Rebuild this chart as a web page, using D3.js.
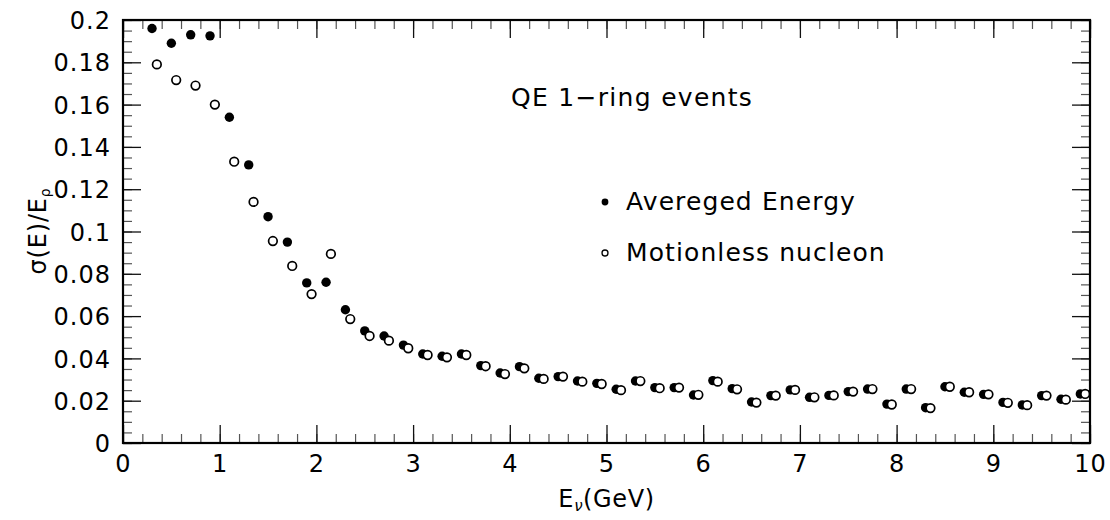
<!DOCTYPE html>
<html>
<head>
<meta charset="utf-8">
<script src="https://cdn.jsdelivr.net/npm/d3@7"></script>
<style>
  body { margin: 0; background: #fff; }
  svg text { font-family: "DejaVu Sans", sans-serif; fill: #000; }
</style>
</head>
<body>
<div id="chart"></div>
<script>
// ==========================
// Data
// ==========================

const xTicks = [0, 1, 2, 3, 4, 5, 6, 7, 8, 9, 10];
const yTicks = [0, 0.02, 0.04, 0.06, 0.08, 0.1, 0.12, 0.14, 0.16, 0.18, 0.2];

const avgEnergyX = [0.3, 0.5, 0.7, 0.9, 1.1, 1.3, 1.5, 1.7, 1.9, 2.1, 2.3, 2.5, 2.7, 2.9,
    3.1, 3.3, 3.5, 3.7, 3.9, 4.1, 4.3, 4.5, 4.7, 4.9, 5.1, 5.3, 5.5, 5.7, 5.9,
    6.1, 6.3, 6.5, 6.7, 6.9, 7.1, 7.3, 7.5, 7.7, 7.9, 8.1, 8.3, 8.5, 8.7, 8.9,
    9.1, 9.3, 9.5, 9.7, 9.9];
const avgEnergyY = [0.196, 0.189, 0.193, 0.1925, 0.154, 0.1315, 0.107, 0.095, 0.0757, 0.076,
    0.063, 0.053, 0.0506, 0.0463, 0.0421, 0.041, 0.0421, 0.0366, 0.0331, 0.0361,
    0.0306, 0.0314, 0.0293, 0.0282, 0.0254, 0.0293, 0.0262, 0.0262, 0.0227, 0.0295,
    0.0257, 0.0194, 0.0224, 0.0251, 0.0216, 0.0225, 0.0243, 0.0255, 0.0184, 0.0255,
    0.0167, 0.0266, 0.024, 0.023, 0.0192, 0.018, 0.0224, 0.0207, 0.0232];

const motionlessX = [0.35, 0.55, 0.75, 0.95, 1.15, 1.35, 1.55, 1.75, 1.95, 2.15, 2.35, 2.55, 2.75, 2.95,
    3.15, 3.35, 3.55, 3.75, 3.95, 4.15, 4.35, 4.55, 4.75, 4.95, 5.15, 5.35, 5.55, 5.75, 5.95,
    6.15, 6.35, 6.55, 6.75, 6.95, 7.15, 7.35, 7.55, 7.75, 7.95, 8.15, 8.35, 8.55, 8.75, 8.95,
    9.15, 9.35, 9.55, 9.75, 9.95];
const motionlessY = [0.179, 0.1716, 0.169, 0.16, 0.133, 0.114, 0.0955, 0.0837, 0.0704, 0.0894,
    0.0586, 0.0506, 0.0484, 0.0448, 0.0416, 0.0405, 0.0416, 0.0363, 0.0326, 0.0353,
    0.0303, 0.0314, 0.029, 0.0279, 0.025, 0.0293, 0.0259, 0.0262, 0.0228, 0.029,
    0.0254, 0.0191, 0.0224, 0.0251, 0.0216, 0.0225, 0.0243, 0.0255, 0.0182, 0.0255,
    0.0165, 0.0266, 0.024, 0.023, 0.019, 0.0179, 0.0224, 0.0205, 0.0232];

const avgEnergy = avgEnergyX.map((x, i) => ({ x, y: avgEnergyY[i] }));
const motionless = motionlessX.map((x, i) => ({ x, y: motionlessY[i] }));

// ==========================
// SVG Setup
// ==========================

const width = 1110;
const height = 520;
const margin = { top: 20, right: 20, bottom: 77, left: 123 };
const innerWidth = width - margin.left - margin.right;
const innerHeight = height - margin.top - margin.bottom;

const svg = d3.select("#chart").append("svg")
    .attr("width", width)
    .attr("height", height);

const chart = svg.append("g")
    .attr("transform", `translate(${margin.left},${margin.top})`);

// ==========================
// Scales
// ==========================

const xScale = d3.scaleLinear().domain([0, 10]).range([0, innerWidth]);
const yScale = d3.scaleLinear().domain([0, 0.2]).range([innerHeight, 0]);

const xMinor = d3.range(0, 10.001, 0.2).map(v => +v.toFixed(1));
const yMinor = d3.range(0, 0.2001, 0.005).map(v => +v.toFixed(3));

// ==========================
// Axes (ticks point inward)
// ==========================

function styleAxis(g, color, width, keepText) {
    g.select(".domain").remove();
    g.selectAll(".tick line").attr("stroke", color).attr("stroke-width", width);
    if (!keepText) g.selectAll(".tick text").remove();
}

// minor ticks
chart.append("g").attr("transform", `translate(0,${innerHeight})`)
    .call(d3.axisBottom(xScale).tickValues(xMinor).tickSize(-9))
    .call(g => styleAxis(g, "#555", 1.2));
chart.append("g")
    .call(d3.axisTop(xScale).tickValues(xMinor).tickSize(-9))
    .call(g => styleAxis(g, "#555", 1.2));
chart.append("g")
    .call(d3.axisLeft(yScale).tickValues(yMinor).tickSize(-9))
    .call(g => styleAxis(g, "#555", 1.2));
chart.append("g").attr("transform", `translate(${innerWidth},0)`)
    .call(d3.axisRight(yScale).tickValues(yMinor).tickSize(-9))
    .call(g => styleAxis(g, "#555", 1.2));

// major ticks
const xAxis = chart.append("g").attr("transform", `translate(0,${innerHeight})`)
    .call(d3.axisBottom(xScale).tickValues(xTicks).tickSize(-18).tickFormat(d3.format("d")))
    .call(g => styleAxis(g, "#111", 1.3, true));
xAxis.selectAll(".tick text")
    .attr("y", 0)
    .attr("dy", "29")
    .style("font-size", "24px")
    .style("letter-spacing", "1px")
    .style("font-family", "DejaVu Sans, sans-serif")
    .attr("fill", "#000");

chart.append("g")
    .call(d3.axisTop(xScale).tickValues(xTicks).tickSize(-18))
    .call(g => styleAxis(g, "#111", 1.3));

const yAxis = chart.append("g")
    .call(d3.axisLeft(yScale).tickValues(yTicks).tickSize(-18).tickFormat(d3.format("~g")))
    .call(g => styleAxis(g, "#111", 1.3, true));
yAxis.selectAll(".tick text")
    .attr("x", -12)
    .attr("dy", "0.36em")
    .style("font-size", "24px")
    .style("letter-spacing", "1px")
    .style("font-family", "DejaVu Sans, sans-serif")
    .attr("fill", "#000");

chart.append("g").attr("transform", `translate(${innerWidth},0)`)
    .call(d3.axisRight(yScale).tickValues(yTicks).tickSize(-18))
    .call(g => styleAxis(g, "#111", 1.3));

// frame
chart.append("rect")
    .attr("x", 0)
    .attr("y", 0)
    .attr("width", innerWidth)
    .attr("height", innerHeight)
    .attr("fill", "none")
    .attr("stroke", "#000")
    .attr("stroke-width", 2.2);

// ==========================
// Points
// ==========================

chart.selectAll(".avg-pt")
    .data(avgEnergy)
    .enter()
    .append("circle")
    .attr("class", "avg-pt")
    .attr("cx", d => xScale(d.x))
    .attr("cy", d => yScale(d.y))
    .attr("r", 4.7)
    .attr("fill", "#000");

chart.selectAll(".mot-pt")
    .data(motionless)
    .enter()
    .append("circle")
    .attr("class", "mot-pt")
    .attr("cx", d => xScale(d.x))
    .attr("cy", d => yScale(d.y))
    .attr("r", 4.3)
    .attr("fill", "#fff")
    .attr("stroke", "#000")
    .attr("stroke-width", 1.7);

// ==========================
// Labels
// ==========================

svg.append("text")
    .attr("x", 511)
    .attr("y", 106)
    .style("font-size", "25px")
    .style("letter-spacing", "1.3px")
    .text("QE 1\u2212ring events");

const legend = svg.append("g");

legend.append("circle")
    .attr("cx", 605).attr("cy", 202).attr("r", 3.4)
    .attr("fill", "#000");
legend.append("text")
    .attr("x", 626).attr("y", 210)
    .style("font-size", "25px")
    .style("letter-spacing", "1.1px")
    .text("Avereged Energy");

legend.append("circle")
    .attr("cx", 605).attr("cy", 253).attr("r", 3)
    .attr("fill", "#fff").attr("stroke", "#000").attr("stroke-width", 1.3);
legend.append("text")
    .attr("x", 626).attr("y", 261)
    .style("font-size", "25px")
    .style("letter-spacing", "1.1px")
    .text("Motionless nucleon");

// x label
const xLabel = svg.append("text")
    .attr("x", margin.left + innerWidth / 2)
    .attr("y", 507)
    .attr("text-anchor", "middle")
    .style("font-size", "24px")
    .style("letter-spacing", "0.6px");
xLabel.append("tspan").text("E");
xLabel.append("tspan").attr("dy", 4).style("font-size", "15px").style("font-style", "italic").text("\u03bd");
xLabel.append("tspan").attr("dy", -4).text("(GeV)");

// y label
const yLabel = svg.append("text")
    .attr("transform", `translate(46,231) rotate(-90)`)
    .attr("text-anchor", "middle")
    .style("font-size", "24px")
    .style("letter-spacing", "0.8px");
yLabel.append("tspan").text("\u03c3(E)/E");
yLabel.append("tspan").attr("dy", 4).style("font-size", "14px").text("\u03c1");
</script>
</body>
</html>
